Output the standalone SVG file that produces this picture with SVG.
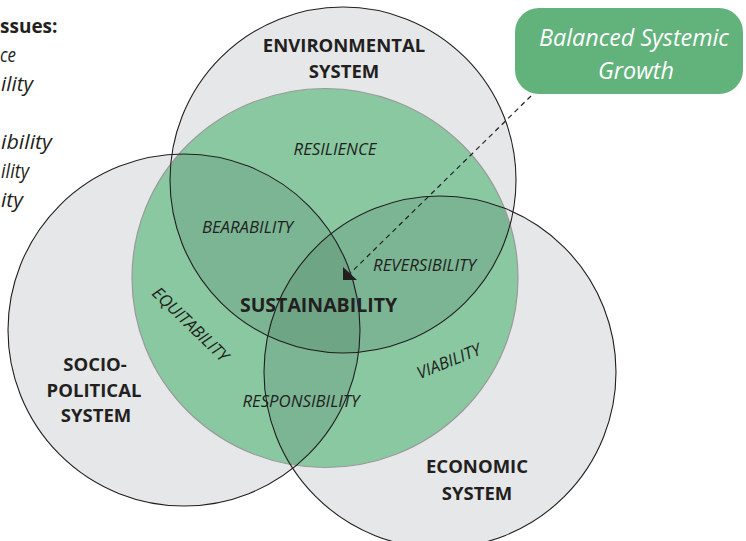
<svg xmlns="http://www.w3.org/2000/svg" width="746" height="541" viewBox="0 0 746 541">
<style>
.sys{fill:#e6e7e8;stroke:none}
.ring{fill:none;stroke:#231f20;stroke-width:1.1}
.lens{fill:#7bb594}
.core{fill:#6ea585}
.lbl{font-family:"Open Sans","Noto Sans",sans-serif;font-weight:bold;font-size:18.5px;fill:#231f20;text-anchor:middle}
.it{font-family:"Open Sans","Noto Sans",sans-serif;font-style:italic;font-size:16.8px;fill:#231f20;text-anchor:middle}
.leg{font-family:"Open Sans","Noto Sans",sans-serif;font-style:italic;font-size:20px;fill:#231f20;text-anchor:start}
.legb{font-family:"Open Sans","Noto Sans",sans-serif;font-weight:bold;font-size:19px;fill:#231f20;text-anchor:start}
.box{font-family:"Open Sans","Noto Sans",sans-serif;font-style:italic;font-size:23.3px;fill:#ffffff;text-anchor:middle}
</style>
<defs>
<clipPath id="cGreen"><ellipse cx="325" cy="278" rx="193" ry="189.5"/></clipPath>
<clipPath id="cEnv"><circle cx="343" cy="180" r="173"/></clipPath>
<clipPath id="cSoc"><circle cx="184" cy="330" r="176"/></clipPath>
</defs>
<rect width="746" height="541" fill="#ffffff"/>

<g id="systems-fill">
<circle class="sys" cx="343" cy="180" r="173"/>
<circle class="sys" cx="184" cy="330" r="176"/>
<circle class="sys" cx="440" cy="372" r="176"/>
</g>

<g id="sustainability-zone">
<ellipse cx="325" cy="278" rx="193" ry="189.5" fill="#89c8a1"/>
<g clip-path="url(#cGreen)">
<g clip-path="url(#cEnv)">
<circle class="lens" cx="184" cy="330" r="176"/>
<circle class="lens" cx="440" cy="372" r="176"/>
<g clip-path="url(#cSoc)">
<circle class="core" cx="440" cy="372" r="176"/>
</g>
</g>
<g clip-path="url(#cSoc)">
<circle class="lens" cx="440" cy="372" r="176"/>
<g clip-path="url(#cEnv)">
<circle class="core" cx="440" cy="372" r="176"/>
</g>
</g>
</g>
<ellipse cx="325" cy="278" rx="193" ry="189.5" fill="none" stroke="#9a9a9a" stroke-width="1.2"/>
</g>

<g id="environmental-system">
<circle class="ring" cx="343" cy="180" r="173"/>
<text class="lbl" x="344" y="52">ENVIRONMENTAL</text>
<text class="lbl" x="344" y="78">SYSTEM</text>
</g>
<g id="socio-political-system">
<circle class="ring" cx="184" cy="330" r="176"/>
<text class="lbl" x="95" y="371">SOCIO-</text>
<text class="lbl" x="94" y="397">POLITICAL</text>
<text class="lbl" x="96" y="422">SYSTEM</text>
</g>
<g id="economic-system">
<circle class="ring" cx="440" cy="372" r="176"/>
<text class="lbl" x="477" y="473">ECONOMIC</text>
<text class="lbl" x="477" y="500">SYSTEM</text>
</g>

<g id="zone-labels">
<text class="it" x="335" y="155">RESILIENCE</text>
<text class="it" x="247.5" y="233">BEARABILITY</text>
<text class="it" x="424.5" y="271">REVERSIBILITY</text>
<text class="it" x="301" y="407">RESPONSIBILITY</text>
<text class="it" transform="translate(190,325) rotate(44)" x="0" y="5">EQUITABILITY</text>
<text class="it" transform="translate(449,362) rotate(-22)" x="0" y="5">VIABILITY</text>
<text class="lbl" x="318.5" y="312" style="font-size:19.5px">SUSTAINABILITY</text>
</g>

<g id="legend">
<text class="legb" x="0" y="33">ssues:</text>
<text class="leg" x="0" y="62" textLength="16" lengthAdjust="spacingAndGlyphs">ce</text>
<text class="leg" x="1" y="91" textLength="32" lengthAdjust="spacingAndGlyphs">ility</text>
<text class="leg" x="1" y="149" textLength="51" lengthAdjust="spacingAndGlyphs">ibility</text>
<text class="leg" x="1" y="178" textLength="28" lengthAdjust="spacingAndGlyphs">ility</text>
<text class="leg" x="1" y="207" textLength="22" lengthAdjust="spacingAndGlyphs">ity</text>
</g>

<g id="balanced-systemic-growth">
<rect x="515" y="8" width="228" height="86" rx="24" fill="#62b27c"/>
<text class="box" x="634" y="46">Balanced Systemic</text>
<text class="box" x="636" y="79">Growth</text>
</g>

<g id="connectors">
<line x1="531" y1="96" x2="350" y2="273.5" stroke="#231f20" stroke-width="1.2" stroke-dasharray="5,4"/>
<polygon points="343,267 343,280 357,280" fill="#231f20"/>
</g>
</svg>
